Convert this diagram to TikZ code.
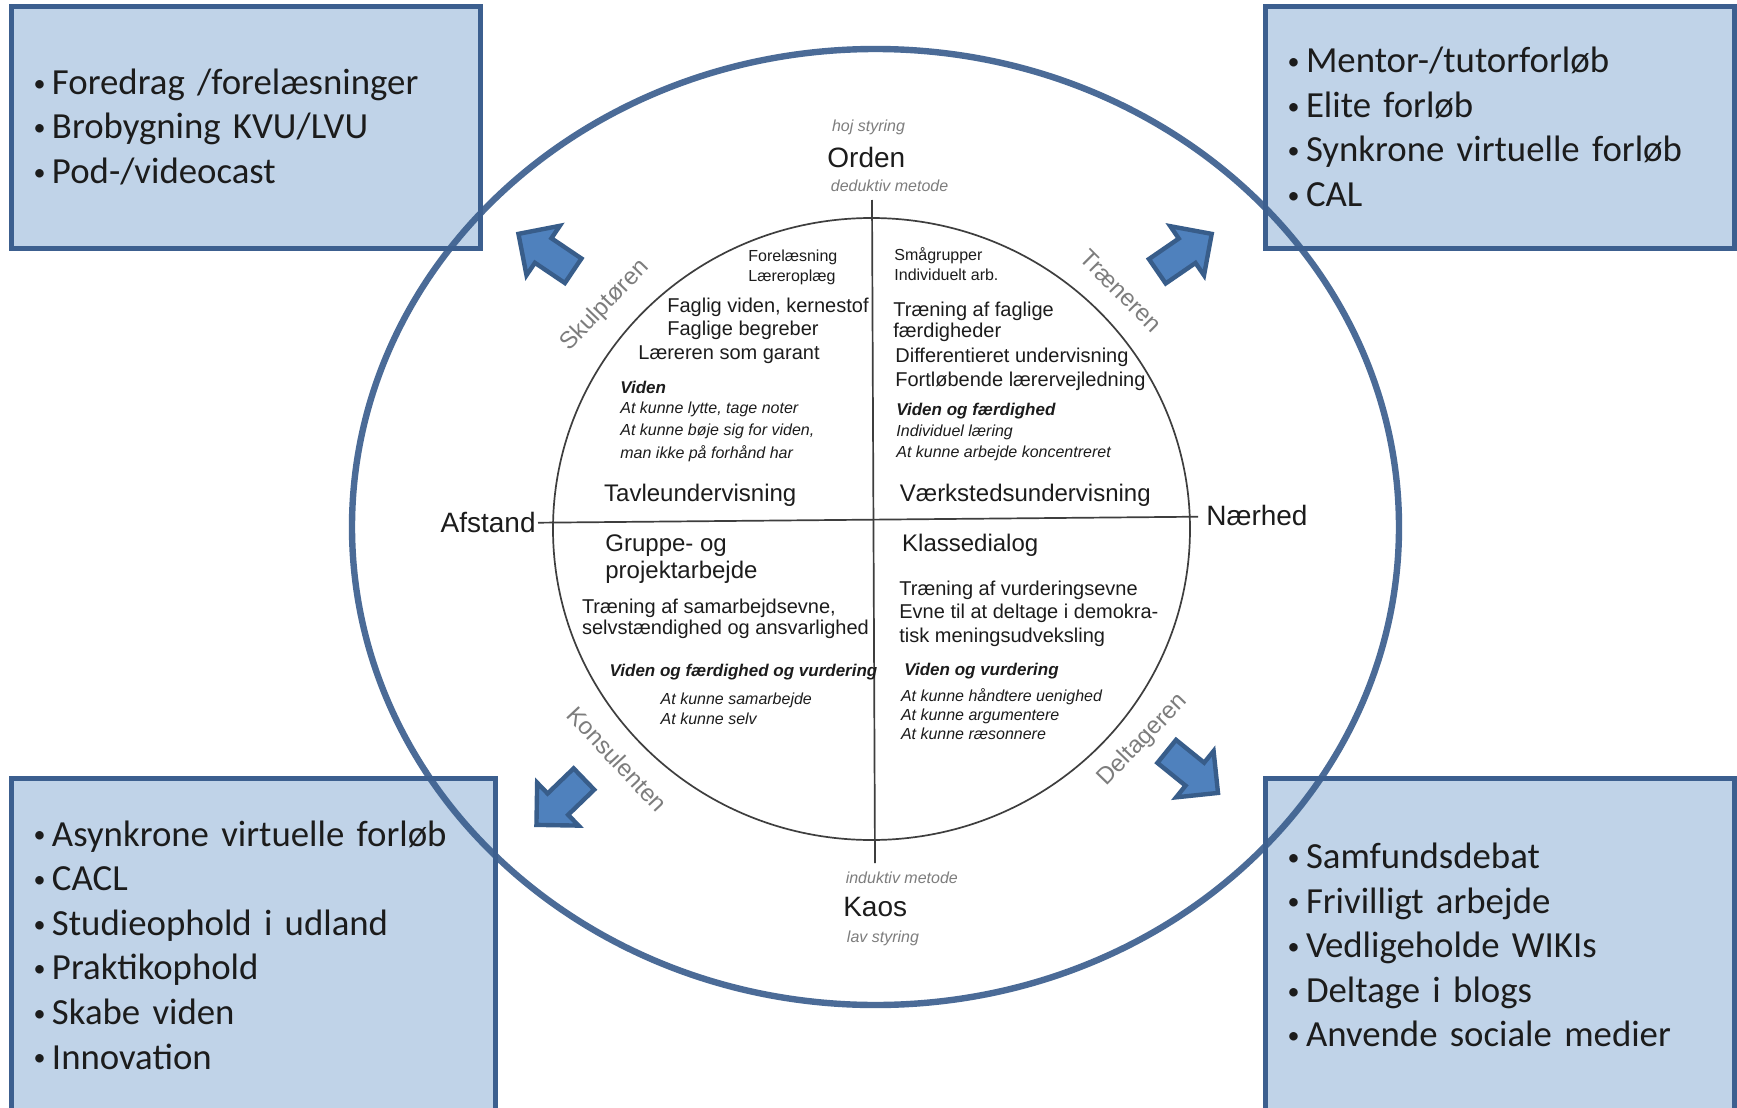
\documentclass[tikz,border=0pt]{standalone}
\usepackage{fontspec}
\setmainfont{Liberation Sans}
\newfontfamily\boxfont{Carlito}
\usepackage{xcolor}
\usepackage{tikz}
\usetikzlibrary{positioning,shapes.arrows}

\definecolor{boxfill}{RGB}{192,211,232}
\definecolor{boxline}{RGB}{60,95,143}
\definecolor{arrowfill}{RGB}{79,129,189}
\definecolor{arrowline}{RGB}{56,93,138}
\definecolor{ink}{RGB}{28,28,28}
\definecolor{faint}{RGB}{125,125,125}

\newcommand{\bulletline}[1]{\makebox[10pt][l]{\hspace{0.8pt}\raisebox{1.6pt}{\fontsize{12}{12}\selectfont •}}#1}

\begin{document}
\begin{tikzpicture}[x=0.5pt, y=-0.5pt, inner sep=0pt, text=ink,
    blist/.style={draw=boxline, line width=2.5pt, fill=boxfill, align=left, inner xsep=10.5pt, inner ysep=0pt,
      font=\boxfont\fontsize{18.4}{22.3}\selectfont},
    blk/.style={single arrow, draw=arrowline, fill=arrowfill, line width=2.2pt, minimum height=33pt, minimum width=27.5pt,
      single arrow head extend=7.5pt, single arrow tip angle=90, inner xsep=0pt, inner ysep=6.3pt, anchor=tail},
    pole/.style={font=\fontsize{14}{16}\selectfont},
    note/.style={text=faint, font=\itshape\fontsize{8}{9.6}\selectfont},
    role/.style={text=faint, font=\fontsize{12}{14}\selectfont},
    form/.style={anchor=west, align=left, font=\fontsize{12}{13.3}\selectfont},
    line10/.style={anchor=west, align=left, font=\fontsize{10}{11.6}\selectfont},
    tiny/.style={anchor=west, align=left, font=\fontsize{8}{10.2}\selectfont},
    hdr/.style={anchor=west, font=\bfseries\itshape\fontsize{8.5}{10}\selectfont},
    skill/.style={anchor=west, align=left, font=\itshape\fontsize{8}{10.5}\selectfont},
    axis/.style={draw=ink!85, line width=0.85pt}]
	\useasboundingbox (0,0) rectangle (1737,1108);
	\fill[white] (0,0) rectangle (1737,1108);
	\clip (0,0) rectangle (1737,1108);

	% corner boxes
	\node[blist, minimum width=234.5pt, minimum height=121pt, text width=213.5pt] (boxtl) at (245.5,127)
		{\bulletline{Foredrag /forelæsninger}\\\bulletline{Brobygning KVU/LVU}\\\bulletline{Pod-/videocast}};
	\node[blist, minimum width=234.5pt, minimum height=121pt, text width=213.5pt] (boxtr) at (1499.5,127)
		{\bulletline{Mentor-/tutorforløb}\\\bulletline{Elite forløb}\\\bulletline{Synkrone virtuelle forløb}\\\bulletline{CAL}};
	\node[blist, minimum width=242pt, minimum height=167pt, text width=221pt] (boxbl) at (253,945)
		{\bulletline{Asynkrone virtuelle forløb}\\\bulletline{CACL}\\\bulletline{Studieophold i udland}\\\bulletline{Praktikophold}\\\bulletline{Skabe viden}\\\bulletline{Innovation}};
	\node[blist, minimum width=234.5pt, minimum height=167pt, text width=213.5pt] (boxbr) at (1499.5,945)
		{\bulletline{Samfundsdebat}\\\bulletline{Frivilligt arbejde}\\\bulletline{Vedligeholde WIKIs}\\\bulletline{Deltage i blogs}\\\bulletline{Anvende sociale medier}};

	% outer ring and inner circle
	\draw[draw=boxline, line width=3.2pt, draw opacity=0.92] (875.5,527) ellipse [x radius=523.5, y radius=478];
	\draw[axis] (871.5,529) ellipse [x radius=318.5, y radius=311];

	% block arrows
	\node[blk, rotate=146] (artl) at (575,272) {};
	\node[blk, rotate=34.5] (artr) at (1155.5,272.5) {};
	\node[blk, rotate=224] (arbl) at (585.5,777.5) {};
	\node[blk, rotate=-39] (arbr) at (1165,750) {};

	% poles
	\node[pole] (orden) at (866.3,157.3) {Orden};
	\node[note] (hoj) at (868.5,127.4) {hoj styring};
	\node[note] (deduktiv) at (889.6,186.1) {deduktiv metode};
	\node[pole] (kaos) at (875.2,907.3) {Kaos};
	\node[note] (induktiv) at (901.8,877.4) {induktiv metode};
	\node[note] (lav) at (883,938.3) {lav styring};
	\node[pole, anchor=east] (afstand) at (536,522.9) {Afstand};
	\node[pole, anchor=west] (naerhed) at (1206,515) {Nærhed};

	\coordinate (vtop) at (872,200);
	\coordinate (vbot) at (875,863);
	\coordinate (hwest) at (538,522.7);
	\coordinate (heast) at (1198,516.7);
	\draw[axis] (vtop) -- (vbot);
	\draw[axis] (hwest) -- (heast);

	% roles
	\node[role, rotate=46] (skulptoer) at (604.9,305.8) {Skulptøren};
	\node[role, rotate=-45] (traener) at (1121,291) {Træneren};
	\node[role, rotate=-47] (konsulent) at (617,759) {Konsulenten};
	\node[role, rotate=46] (deltager) at (1143,740) {Deltageren};

	% upper left quadrant
	\node[tiny] (tlform) at (748,267.5) {Forelæsning\\Læreroplæg};
	\node[line10] (tlaim) at (667,318.5) {Faglig viden, kernestof\\Faglige begreber};
	\node[line10] (tlrole) at (638,354.5) {Læreren som garant};
	\node[hdr] (tlhdr) at (620,387.7) {Viden};
	\node[skill, font=\itshape\fontsize{8}{11.3}\selectfont] (tlskill) at (620,431.5)
		{At kunne lytte, tage noter\\At kunne bøje sig for viden,\\man ikke på forhånd har};
	\node[form] (tavle) at (603.8,495) {Tavleundervisning};

	% upper right quadrant
	\node[tiny, font=\fontsize{8}{10}\selectfont] (trform) at (894,263.7) {Smågrupper\\Individuelt arb.};
	\node[line10, font=\fontsize{10}{10.5}\selectfont] (traim) at (893,321.8) {Træning af faglige\\færdigheder};
	\node[line10] (trdiff) at (895,369.4) {Differentieret undervisning\\Fortløbende lærervejledning};
	\node[hdr] (trhdr) at (896,411) {Viden og færdighed};
	\node[skill] (trskill) at (896,442.5) {Individuel læring\\At kunne arbejde koncentreret};
	\node[form] (vaerksted) at (899.5,495) {Værkstedsundervisning};

	% lower left quadrant
	\node[form] (gruppe) at (605,559.4) {Gruppe- og\\projektarbejde};
	\node[line10, font=\fontsize{10}{10.5}\selectfont] (blaim) at (581.6,618.7) {Træning af samarbejdsevne,\\selvstændighed og ansvarlighed};
	\node[hdr] (blhdr) at (609.3,672.4) {Viden og færdighed og vurdering};
	\node[skill, font=\itshape\fontsize{8}{10}\selectfont] (blskill) at (660.3,709) {At kunne samarbejde\\At kunne selv};

	% lower right quadrant
	\node[form] (klasse) at (901.8,545) {Klassedialog};
	\node[line10] (braim) at (899,613.7) {Træning af vurderingsevne\\Evne til at deltage i demokra-\\tisk meningsudveksling};
	\node[hdr] (brhdr) at (904,671.3) {Viden og vurdering};
	\node[skill, font=\itshape\fontsize{8}{9.5}\selectfont] (brskill) at (900.6,714.5)
		{At kunne håndtere uenighed\\At kunne argumentere\\At kunne ræsonnere};
\end{tikzpicture}
\end{document}
